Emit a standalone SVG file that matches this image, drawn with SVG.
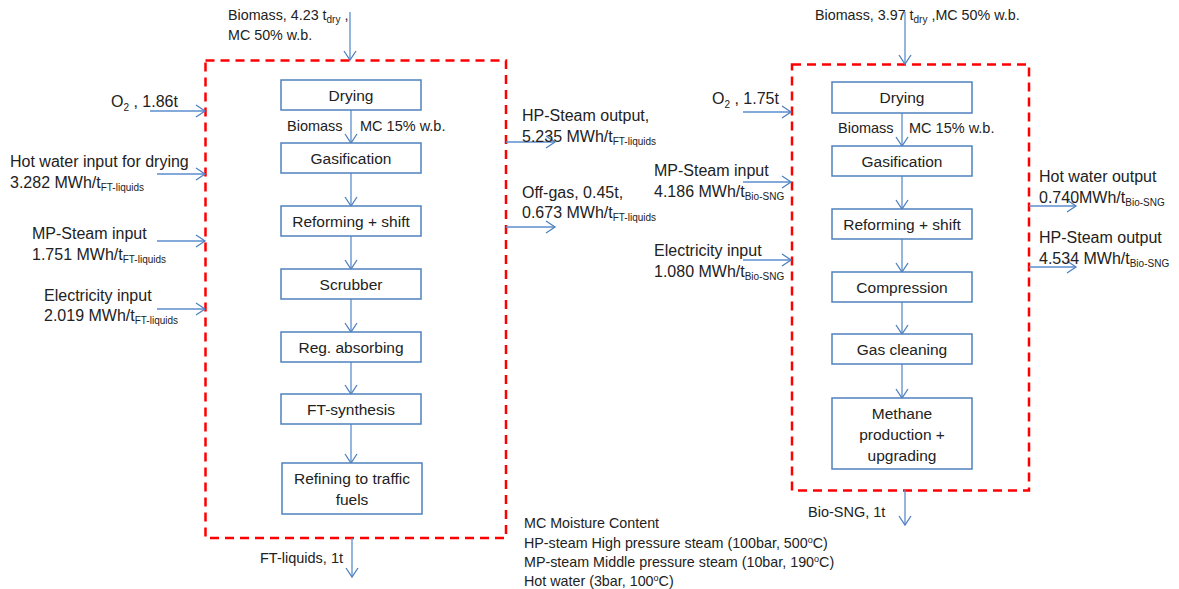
<svg xmlns="http://www.w3.org/2000/svg" width="1179" height="589" viewBox="0 0 1179 589">
<defs>
<marker id="ah" markerUnits="userSpaceOnUse" markerWidth="12" markerHeight="14" refX="10" refY="7" orient="auto">
<path d="M1,1 L10,7 L1,13" fill="none" stroke="#4F81BD" stroke-width="1.3"/>
</marker>
<style>
text{font-family:"Liberation Sans",Arial,sans-serif;fill:#222;font-size:14.5px}
.box{fill:#fff;stroke:#4F81BD;stroke-width:1.5}
.bl{font-size:15.5px;text-anchor:middle}
.dash{fill:none;stroke:#FF0000;stroke-width:2.5;stroke-dasharray:9,6}
.c{stroke:#5B8ED0;stroke-width:1.3;fill:none;marker-end:url(#ah)}
.s{font-size:10px}
.side text{font-size:16px}
.side .s{font-size:10px}
.lg{font-size:14.3px}
.top{font-size:14.3px}
</style>
</defs>
<rect width="1179" height="589" fill="#fff"/>

<!-- boundaries -->
<rect id="boundary-ft" class="dash" x="205.5" y="60.5" width="300.5" height="477.5"/>
<rect id="boundary-sng" class="dash" x="792" y="64.5" width="237" height="426"/>

<!-- connectors -->
<g id="connectors">
<line class="c" x1="350" y1="12" x2="350" y2="60"/>
<line class="c" x1="351" y1="110" x2="351" y2="143"/>
<line class="c" x1="351" y1="173" x2="351" y2="206"/>
<line class="c" x1="351" y1="236" x2="351" y2="269"/>
<line class="c" x1="351" y1="299" x2="351" y2="332"/>
<line class="c" x1="351" y1="362" x2="351" y2="394"/>
<line class="c" x1="351" y1="424" x2="351" y2="463"/>
<line class="c" x1="352" y1="538" x2="352" y2="577"/>
<line class="c" x1="150" y1="111" x2="205" y2="111"/>
<line class="c" x1="157" y1="174" x2="205" y2="174"/>
<line class="c" x1="157" y1="241" x2="205" y2="241"/>
<line class="c" x1="157" y1="309" x2="205" y2="309"/>
<line class="c" x1="506" y1="142" x2="555" y2="142"/>
<line class="c" x1="506" y1="227" x2="555" y2="227"/>

<line class="c" x1="905" y1="12" x2="905" y2="64"/>
<line class="c" x1="902" y1="113" x2="902" y2="146"/>
<line class="c" x1="902" y1="176" x2="902" y2="209"/>
<line class="c" x1="902" y1="239" x2="902" y2="272"/>
<line class="c" x1="902" y1="302" x2="902" y2="334"/>
<line class="c" x1="902" y1="364" x2="902" y2="398"/>
<line class="c" x1="905" y1="490" x2="905" y2="525"/>
<line class="c" x1="743" y1="112" x2="791" y2="112"/>
<line class="c" x1="743" y1="182" x2="791" y2="182"/>
<line class="c" x1="743" y1="260" x2="791" y2="260"/>
<line class="c" x1="1029" y1="206" x2="1076" y2="206"/>
<line class="c" x1="1029" y1="267" x2="1076" y2="267"/>
</g>

<!-- FT-liquids chain -->
<g id="ft-drying"><rect class="box" x="281" y="80" width="140" height="30"/><text class="bl" x="351" y="101">Drying</text></g>
<g id="ft-gasification"><rect class="box" x="281" y="143" width="140" height="30"/><text class="bl" x="351" y="164">Gasification</text></g>
<g id="ft-reforming"><rect class="box" x="281" y="206" width="140" height="30"/><text class="bl" x="351" y="227">Reforming + shift</text></g>
<g id="ft-scrubber"><rect class="box" x="281" y="269" width="140" height="30"/><text class="bl" x="351" y="290">Scrubber</text></g>
<g id="ft-regabs"><rect class="box" x="281" y="332" width="140" height="30"/><text class="bl" x="351" y="353">Reg. absorbing</text></g>
<g id="ft-synthesis"><rect class="box" x="281" y="394" width="140" height="30"/><text class="bl" x="351" y="415">FT-synthesis</text></g>
<g id="ft-refining"><rect class="box" x="282" y="463" width="140" height="51"/><text class="bl" x="352" y="484">Refining to traffic</text><text class="bl" x="352" y="505">fuels</text></g>

<!-- Bio-SNG chain -->
<g id="sng-drying"><rect class="box" x="832" y="82" width="140" height="31"/><text class="bl" x="902" y="103">Drying</text></g>
<g id="sng-gasification"><rect class="box" x="832" y="146" width="140" height="30"/><text class="bl" x="902" y="167">Gasification</text></g>
<g id="sng-reforming"><rect class="box" x="832" y="209" width="140" height="30"/><text class="bl" x="902" y="230">Reforming + shift</text></g>
<g id="sng-compression"><rect class="box" x="832" y="272" width="140" height="30"/><text class="bl" x="902" y="293">Compression</text></g>
<g id="sng-gascleaning"><rect class="box" x="832" y="334" width="140" height="30"/><text class="bl" x="902" y="355">Gas cleaning</text></g>
<g id="sng-methane"><rect class="box" x="832" y="398" width="140" height="71"/><text class="bl" x="902" y="419">Methane</text><text class="bl" x="902" y="440">production +</text><text class="bl" x="902" y="461">upgrading</text></g>

<!-- labels FT -->
<g id="labels-ft">
<text class="top" x="228" y="20">Biomass, 4.23 t<tspan class="s" dy="3">dry</tspan><tspan dy="-3"> ,</tspan></text>
<text class="top" x="228" y="40">MC 50% w.b.</text>
<text x="287" y="131">Biomass</text>
<text x="360" y="131">MC 15% w.b.</text>
<g class="side">
<text x="111" y="107">O<tspan class="s" dy="4">2</tspan><tspan dy="-4"> , 1.86t</tspan></text>
<text x="10" y="167">Hot water input for drying</text>
<text x="10" y="188">3.282 MWh/t<tspan class="s" dy="3">FT-liquids</tspan></text>
<text x="32" y="239">MP-Steam input</text>
<text x="32" y="260">1.751 MWh/t<tspan class="s" dy="3">FT-liquids</tspan></text>
<text x="44" y="301">Electricity input</text>
<text x="44" y="321">2.019 MWh/t<tspan class="s" dy="3">FT-liquids</tspan></text>
<text x="522" y="121">HP-Steam output,</text>
<text x="522" y="142">5.235 MWh/t<tspan class="s" dy="3">FT-liquids</tspan></text>
<text x="522" y="198">Off-gas, 0.45t,</text>
<text x="522" y="218">0.673 MWh/t<tspan class="s" dy="3">FT-liquids</tspan></text>
</g>
<text x="260" y="563">FT-liquids, 1t</text>
</g>

<!-- labels SNG -->
<g id="labels-sng">
<text class="top" x="815" y="20">Biomass, 3.97 t<tspan class="s" dy="3">dry</tspan><tspan dy="-3"> ,MC 50% w.b.</tspan></text>
<text x="838" y="133">Biomass</text>
<text x="909" y="133">MC 15% w.b.</text>
<g class="side">
<text x="712" y="104">O<tspan class="s" dy="4">2</tspan><tspan dy="-4"> , 1.75t</tspan></text>
<text x="654" y="176">MP-Steam input</text>
<text x="654" y="197">4.186 MWh/t<tspan class="s" dy="3">Bio-SNG</tspan></text>
<text x="654" y="256">Electricity input</text>
<text x="654" y="277">1.080 MWh/t<tspan class="s" dy="3">Bio-SNG</tspan></text>
<text x="1039" y="182">Hot water output</text>
<text x="1039" y="203">0.740MWh/t<tspan class="s" dy="3">Bio-SNG</tspan></text>
<text x="1039" y="243">HP-Steam output</text>
<text x="1039" y="264">4.534 MWh/t<tspan class="s" dy="3">Bio-SNG</tspan></text>
</g>
<text x="808" y="517">Bio-SNG, 1t</text>
</g>

<!-- legend -->
<g id="legend">
<text class="lg" x="524" y="528">MC Moisture Content</text>
<text class="lg" x="524" y="548">HP-steam High pressure steam (100bar, 500<tspan font-size="9" dy="-5">o</tspan><tspan dy="5">C)</tspan></text>
<text class="lg" x="524" y="567">MP-steam Middle pressure steam (10bar, 190<tspan font-size="9" dy="-5">o</tspan><tspan dy="5">C)</tspan></text>
<text class="lg" x="524" y="586">Hot water (3bar, 100<tspan font-size="9" dy="-5">o</tspan><tspan dy="5">C)</tspan></text>
</g>
</svg>
